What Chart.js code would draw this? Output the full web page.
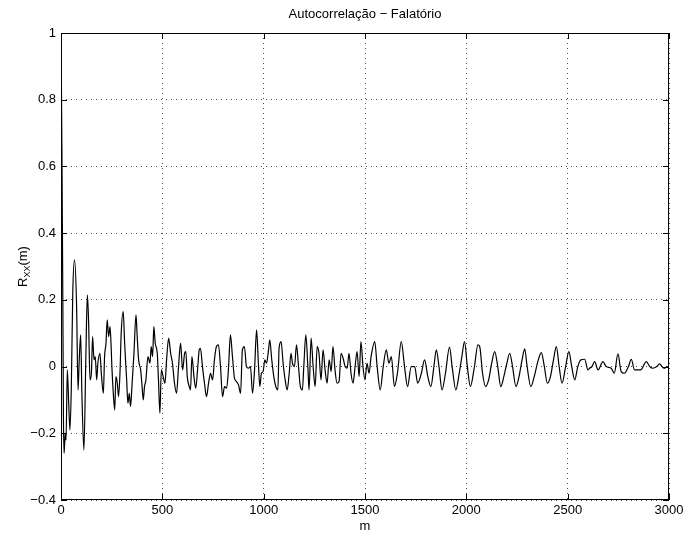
<!DOCTYPE html>
<html>
<head>
<meta charset="utf-8">
<script src="https://cdn.jsdelivr.net/npm/chart.js@4/dist/chart.umd.min.js"></script>
<style>
  html, body { margin: 0; padding: 0; background: #fff; }
  #wrap { width: 688px; height: 535px; }
</style>
</head>
<body>
<div id="wrap"><canvas id="chart" width="688" height="535"></canvas></div>
<script>
// lag m and autocorrelation value
const lagM = [
    0, 5, 9, 12, 15, 18, 21, 25, 31, 38, 44, 51, 58, 67, 77, 84, 90, 97, 103, 113,
    123, 130, 136, 143, 150, 156, 163, 169, 176, 182, 192, 199, 209, 215, 222, 228, 235, 242, 248, 251,
    258, 265, 271, 278, 284, 291, 297, 307, 314, 324, 330, 337, 343, 350, 360, 370, 376, 383, 393, 399,
    406, 412, 419, 429, 439, 445, 452, 458, 465, 475, 481, 488, 495, 504, 513, 521, 531, 541, 550, 560,
    570, 580, 590, 600, 610, 616, 623, 633, 639, 646, 656, 665, 675, 682, 688, 698, 708, 718, 728, 738,
    748, 757, 767, 777, 787, 797, 807, 817, 826, 836, 846, 856, 866, 876, 886, 895, 905, 915, 925, 935,
    945, 955, 965, 974, 981, 989, 997, 1006, 1014, 1024, 1030, 1040, 1050, 1060, 1070, 1076, 1086, 1096, 1106, 1116,
    1126, 1135, 1142, 1152, 1162, 1172, 1181, 1191, 1198, 1208, 1218, 1224, 1234, 1244, 1254, 1264, 1273, 1283, 1293, 1303,
    1313, 1323, 1333, 1342, 1352, 1362, 1372, 1382, 1392, 1402, 1412, 1421, 1431, 1441, 1451, 1461, 1471, 1480, 1490, 1500,
    1510, 1520, 1530, 1548, 1560, 1575, 1590, 1605, 1618, 1630, 1645, 1660, 1679, 1695, 1710, 1728, 1745, 1760, 1778, 1794,
    1810, 1825, 1840, 1852, 1865, 1880, 1897, 1917, 1930, 1948, 1965, 1978, 1991, 2005, 2020, 2040, 2057, 2066, 2080, 2095,
    2110, 2125, 2140, 2155, 2170, 2185, 2200, 2214, 2228, 2245, 2260, 2275, 2288, 2300, 2318, 2335, 2355, 2370, 2385, 2400,
    2415, 2430, 2444, 2458, 2472, 2490, 2506, 2520, 2535, 2550, 2565, 2584, 2600, 2608, 2620, 2633, 2650, 2674, 2690, 2715,
    2730, 2748, 2764, 2780, 2800, 2814, 2830, 2838, 2860, 2888, 2905, 2920, 2940, 2953, 2975, 2994, 3000
];
const rxx = [
    1.0, 0.6, 0.2, -0.15, -0.26, -0.23, -0.2, -0.22, -0.01, -0.11, -0.19, -0.06, 0.22, 0.32, 0.18, -0.07, 0.02, 0.095, -0.08, -0.25,
    0.04, 0.215, 0.14, -0.04, -0.02, 0.09, 0.02, 0.03, -0.04, 0.01, 0.04, -0.02, -0.08, 0.03, 0.07, 0.14, 0.09, 0.12, 0.05, 0.0,
    -0.08, -0.13, -0.03, -0.05, -0.09, -0.02, 0.10, 0.165, 0.07, -0.04, -0.11, -0.08, -0.12, -0.06, 0.04, 0.155, 0.09, 0.02, -0.01, -0.05,
    -0.10, -0.06, -0.04, 0.03, 0.01, 0.06, 0.03, 0.12, 0.07, 0.04, -0.04, -0.14, -0.01, -0.03, -0.05, 0.02, 0.085, 0.04, 0.01, -0.05,
    -0.08, 0.0, 0.07, -0.01, 0.04, 0.045, -0.03, -0.06, -0.07, 0.03, -0.03, -0.065, 0.0, 0.05, 0.055, 0.0, -0.05, -0.09, -0.05, -0.02,
    -0.04, 0.02, 0.06, 0.065, 0.0, -0.09, -0.06, -0.065, -0.01, 0.095, 0.03, -0.035, -0.045, -0.055, -0.08, 0.05, 0.06, 0.0, -0.005, 0.0,
    -0.08, -0.01, 0.11, 0.01, -0.06, -0.02, -0.015, 0.02, 0.01, 0.05, 0.08, 0.02, -0.03, -0.06, -0.07, 0.055, 0.075, 0.01, -0.04, -0.07,
    -0.02, 0.04, 0.01, 0.0, 0.065, 0.0, -0.06, -0.07, 0.0, 0.095, 0.0, -0.07, 0.085, 0.0, -0.06, 0.06, 0.04, -0.04, 0.05, -0.01,
    -0.05, 0.02, -0.015, 0.06, -0.01, -0.05, -0.045, 0.04, 0.025, 0.0, -0.005, 0.04, -0.02, -0.05, 0.0, 0.045, -0.03, 0.075, 0.0, -0.04,
    0.01, -0.02, 0.03, 0.075, 0.0, -0.07, 0.0, 0.05, 0.01, 0.03, -0.06, -0.02, 0.075, 0.0, -0.06, 0.0, 0.0, -0.05, -0.02, 0.02,
    -0.03, -0.06, 0.0, 0.05, 0.0, -0.07, -0.02, 0.058, 0.0, -0.07, -0.02, 0.03, 0.075, 0.0, -0.06, 0.0, 0.065, 0.06, -0.02, -0.06,
    -0.04, 0.01, 0.045, 0.0, -0.06, -0.03, 0.01, 0.04, 0.0, -0.06, -0.03, 0.02, 0.053, 0.0, -0.06, -0.03, 0.02, 0.042, 0.0, -0.05,
    -0.03, 0.02, 0.06, 0.0, -0.05, 0.0, 0.045, 0.0, -0.04, 0.0, 0.02, 0.022, -0.01, -0.005, 0.0, 0.015, -0.01, 0.015, 0.0, -0.005,
    -0.02, 0.038, -0.015, -0.02, 0.0, 0.022, -0.01, -0.01, -0.01, 0.015, 0.0, -0.005, 0.0, 0.008, -0.005, 0.0, 0.0
];
const xTicks = [0, 500, 1000, 1500, 2000, 2500, 3000];
const yTicks = [-0.4, -0.2, 0, 0.2, 0.4, 0.6, 0.8, 1];

const titleText = "Autocorrelação \u2212 Falatório";
const xLabel = "m";

const FONT = "'Liberation Sans', Arial, Helvetica, sans-serif";
const FS = 13;

function fmt(v) {
    const r = Math.round(v * 10) / 10;
    if (r === 0) return "0";
    return r < 0 ? "\u2212" + Math.abs(r) : String(r);
}

// box, inward ticks and texts in the matlab manner
const matlabFrame = {
    id: "matlabFrame",
    afterDraw(chart) {
        const ctx = chart.ctx;
        const a = chart.chartArea;
        const xs = chart.scales.x;
        const ys = chart.scales.y;
        const tl = 6;
        ctx.save();
        ctx.strokeStyle = "#000";
        ctx.lineWidth = 1;
        ctx.strokeRect(a.left + 0.5, a.top + 0.5, a.right - a.left - 1, a.bottom - a.top - 1);
        ctx.beginPath();
        xTicks.forEach(v => {
            const px = Math.round(xs.getPixelForValue(v)) + 0.5;
            ctx.moveTo(px, a.bottom); ctx.lineTo(px, a.bottom - tl);
            ctx.moveTo(px, a.top); ctx.lineTo(px, a.top + tl);
        });
        yTicks.forEach(v => {
            const py = Math.round(ys.getPixelForValue(v)) + 0.5;
            ctx.moveTo(a.left, py); ctx.lineTo(a.left + tl, py);
            ctx.moveTo(a.right, py); ctx.lineTo(a.right - tl, py);
        });
        ctx.stroke();

        ctx.fillStyle = "#000";
        ctx.font = FS + "px " + FONT;
        ctx.textAlign = "center";
        ctx.textBaseline = "alphabetic";
        const cx = (a.left + a.right) / 2;
        ctx.fillText(titleText, cx, 18);
        ctx.fillText(xLabel, cx, 530);

        // y label R_xx(m)
        ctx.translate(27, (a.top + a.bottom) / 2);
        ctx.rotate(-Math.PI / 2);
        ctx.textAlign = "left";
        const w1 = ctx.measureText("R").width;
        ctx.font = "9px " + FONT;
        const w2 = ctx.measureText("XX").width;
        ctx.font = FS + "px " + FONT;
        const w3 = ctx.measureText("(m)").width;
        let x0 = -(w1 + w2 + w3) / 2;
        ctx.fillText("R", x0, 0);
        ctx.font = "9px " + FONT;
        ctx.fillText("XX", x0 + w1, 3);
        ctx.font = FS + "px " + FONT;
        ctx.fillText("(m)", x0 + w1 + w2, 0);
        ctx.restore();
    }
};

const points = lagM.map((m, i) => ({ x: m, y: rxx[i] }));

new Chart(document.getElementById("chart"), {
    type: "line",
    data: {
        datasets: [{
            data: points,
            borderColor: "#000",
            borderWidth: 1.2,
            pointRadius: 0,
            cubicInterpolationMode: "monotone",
            fill: false
        }]
    },
    options: {
        responsive: false,
        animation: false,
        layout: { padding: { top: 33, right: 19, left: 0, bottom: 0 } },
        plugins: {
            legend: { display: false },
            tooltip: { enabled: false },
            title: { display: false }
        },
        scales: {
            x: {
                type: "linear",
                min: 0,
                max: 3000,
                afterFit(s) { s.height = 35; },
                afterBuildTicks(s) { s.ticks = xTicks.map(v => ({ value: v })); },
                ticks: {
                    color: "#000",
                    font: { size: FS, family: FONT },
                    padding: 3,
                    maxRotation: 0,
                    callback: v => String(v)
                },
                grid: { color: "rgba(0,0,0,0.7)", drawTicks: false, lineWidth: 1 },
                border: { display: false, dash: [1, 4] }
            },
            y: {
                type: "linear",
                min: -0.4,
                max: 1,
                afterFit(s) { s.width = 61; },
                afterBuildTicks(s) { s.ticks = yTicks.map(v => ({ value: v })); },
                ticks: {
                    color: "#000",
                    font: { size: FS, family: FONT },
                    padding: 5,
                    callback: v => fmt(v)
                },
                grid: { color: "rgba(0,0,0,0.7)", drawTicks: false, lineWidth: 1 },
                border: { display: false, dash: [1, 4] }
            }
        }
    },
    plugins: [matlabFrame]
});
</script>
</body>
</html>
